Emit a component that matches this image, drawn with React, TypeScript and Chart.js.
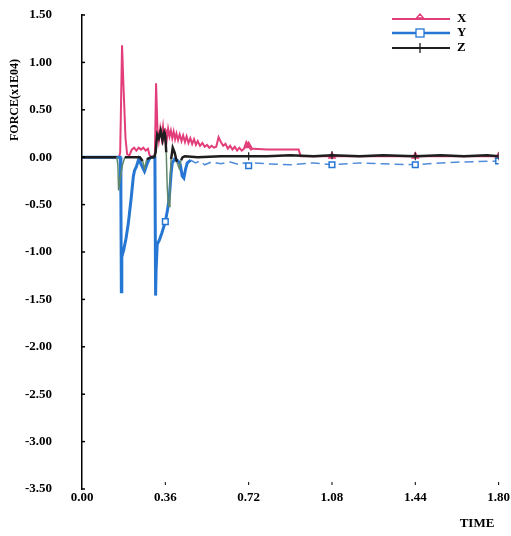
import React, { useEffect, useRef } from 'react';
import { Chart, registerables } from 'chart.js';

Chart.register(...registerables);

// ---- data ----
const xTicks = [0, 0.36, 0.72, 1.08, 1.44, 1.8];
const yTicks = [1.5, 1, 0.5, 0, -0.5, -1, -1.5, -2, -2.5, -3, -3.5];
const markerTimes = [0.36, 0.72, 1.08, 1.44, 1.8];
const seriesLabels = ['X', 'Y', 'Z'];
const seriesColors = ['rgb(226,62,122)', 'rgb(38,118,212)', 'rgb(30,30,30)'];
const axisTitleY = 'FORCE(x1E04)';
const axisTitleX = 'TIME';

const xTime = [0, 0.16, 0.165, 0.173, 0.18, 0.188, 0.195, 0.205, 0.215, 0.225, 0.235, 0.245, 0.255, 0.265, 0.275, 0.285, 0.292, 0.3, 0.315, 0.32, 0.326, 0.332, 0.338, 0.344, 0.35, 0.355, 0.36, 0.366, 0.372, 0.378, 0.384, 0.39, 0.396, 0.402, 0.408, 0.415, 0.422, 0.43, 0.437, 0.445, 0.452, 0.46, 0.468, 0.476, 0.484, 0.492, 0.5, 0.51, 0.52, 0.53, 0.54, 0.55, 0.56, 0.57, 0.58, 0.59, 0.6, 0.61, 0.62, 0.63, 0.64, 0.65, 0.66, 0.67, 0.68, 0.69, 0.7, 0.71, 0.72, 0.73, 0.74, 0.8, 0.88, 0.936, 0.945, 1.08, 1.44, 1.8];
const xForce = [0, 0, 0.05, 1.18, 0.7, 0.2, 0.03, 0.02, 0.08, 0.1, 0.07, 0.1, 0.08, 0.1, 0.07, 0.09, 0.02, 0, 0.02, 0.78, 0.3, 0.18, 0.3, 0.2, 0.32, 0.2, 0.26, 0.18, 0.3, 0.22, 0.28, 0.2, 0.27, 0.19, 0.25, 0.18, 0.24, 0.17, 0.23, 0.16, 0.22, 0.15, 0.2, 0.14, 0.19, 0.13, 0.17, 0.12, 0.15, 0.11, 0.13, 0.1, 0.12, 0.1, 0.11, 0.21, 0.16, 0.12, 0.14, 0.09, 0.12, 0.08, 0.11, 0.07, 0.1, 0.07, 0.09, 0.16, 0.12, 0.08, 0.09, 0.08, 0.08, 0.08, 0.01, 0.01, 0.01, 0.01];

const yTime = [0, 0.165, 0.168, 0.17, 0.172, 0.18, 0.19, 0.2, 0.213, 0.222, 0.227, 0.235, 0.245, 0.26, 0.27, 0.28, 0.29, 0.3, 0.315, 0.318, 0.32, 0.325, 0.335, 0.345, 0.36, 0.37, 0.378, 0.385, 0.39, 0.4, 0.415, 0.425, 0.433, 0.44, 0.448, 0.455, 0.47, 0.49, 0.51, 0.53, 0.56, 0.6, 0.64, 0.68, 0.7, 0.72, 0.74, 0.8, 0.9, 1.0, 1.08, 1.2, 1.3, 1.44, 1.55, 1.65, 1.8];
const yForce = [0, 0, -0.4, -1.42, -1.05, -0.98, -0.86, -0.7, -0.42, -0.2, -0.14, -0.1, -0.02, -0.1, -0.15, -0.08, -0.02, 0, 0, -1.46, -1.2, -0.92, -0.87, -0.8, -0.68, -0.55, -0.4, -0.17, -0.06, -0.02, -0.04, -0.08, -0.2, -0.22, -0.12, -0.06, -0.03, -0.06, -0.04, -0.08, -0.05, -0.07, -0.05, -0.08, -0.06, -0.09, -0.06, -0.07, -0.08, -0.06, -0.08, -0.06, -0.07, -0.08, -0.06, -0.05, -0.04];

const zTime = [0, 0.15, 0.155, 0.158, 0.165, 0.175, 0.185, 0.2, 0.25, 0.262, 0.27, 0.28, 0.3, 0.312, 0.318, 0.325, 0.332, 0.34, 0.348, 0.355, 0.36, 0.364, 0.368, 0.372, 0.376, 0.38, 0.385, 0.392, 0.4, 0.41, 0.42, 0.428, 0.435, 0.445, 0.5, 0.6, 0.72, 0.8, 0.9, 1.0, 1.08, 1.2, 1.3, 1.44, 1.55, 1.65, 1.75, 1.8];
const zForce = [0, 0, -0.08, -0.35, -0.22, -0.08, 0, 0, 0, -0.04, -0.12, -0.02, 0, 0, 0.05, 0.24, 0.2, 0.28, 0.18, 0.26, 0.22, 0.05, -0.3, -0.48, -0.52, -0.25, -0.02, 0.1, 0.05, -0.05, -0.12, -0.03, 0, 0.01, 0, 0.01, 0.01, 0.01, 0.02, 0.01, 0.02, 0.01, 0.02, 0.01, 0.02, 0.01, 0.02, 0.01];

const FONT = 'Liberation Serif, Times New Roman, serif';

const zip = (t: number[], v: number[]) => t.map((x, i) => ({ x, y: v[i] }));
const isMarker = (ctx: any) => ctx.raw && markerTimes.some((m) => Math.abs(m - ctx.raw.x) < 1e-9);

const decorPlugin = {
  id: 'decor',
  afterDraw(chart: any) {
    const { ctx, chartArea, scales } = chart;
    ctx.save();
    // y tick marks (inside)
    ctx.strokeStyle = '#000';
    ctx.lineWidth = 1.5;
    yTicks.forEach((v) => {
      const py = scales.y.getPixelForValue(v);
      ctx.beginPath();
      ctx.moveTo(chartArea.left, py);
      ctx.lineTo(chartArea.left + 3, py);
      ctx.stroke();
    });
    // x tick marks (small dots above labels)
    ctx.lineWidth = 1;
    xTicks.slice(1).forEach((v) => {
      const px = scales.x.getPixelForValue(v);
      ctx.beginPath();
      ctx.moveTo(px, chartArea.bottom - 7);
      ctx.lineTo(px, chartArea.bottom - 4);
      ctx.stroke();
    });
    // axis titles
    ctx.fillStyle = '#000';
    ctx.font = `bold 12px ${FONT}`;
    ctx.textAlign = 'center';
    ctx.textBaseline = 'middle';
    ctx.save();
    ctx.translate(15, 100);
    ctx.rotate(-Math.PI / 2);
    ctx.fillText(axisTitleY, 0, 0);
    ctx.restore();
    ctx.font = `bold 13px ${FONT}`;
    ctx.fillText(axisTitleX, 477, 524);
    // legend
    const rows = [19, 33, 48];
    seriesLabels.forEach((lab, i) => {
      const y = rows[i];
      const c = seriesColors[i];
      ctx.strokeStyle = c;
      ctx.lineWidth = i === 1 ? 2.5 : 2;
      ctx.beginPath();
      ctx.moveTo(392, y);
      ctx.lineTo(450, y);
      ctx.stroke();
      const mx = 420;
      ctx.lineWidth = 1.3;
      if (i === 0) {
        ctx.beginPath();
        ctx.moveTo(mx - 3.5, y - 1);
        ctx.lineTo(mx, y - 5);
        ctx.lineTo(mx + 3.5, y - 1);
        ctx.closePath();
        ctx.stroke();
      } else if (i === 1) {
        ctx.fillStyle = '#fff';
        ctx.fillRect(mx - 4, y - 4, 8, 8);
        ctx.strokeRect(mx - 4, y - 4, 8, 8);
      } else {
        ctx.beginPath();
        ctx.moveTo(mx, y - 5);
        ctx.lineTo(mx, y + 5);
        ctx.stroke();
      }
      ctx.fillStyle = '#000';
      ctx.font = `bold 13px ${FONT}`;
      ctx.textAlign = 'left';
      ctx.fillText(lab, 457, y);
    });
    ctx.restore();
  },
};

export default function App() {
  const ref = useRef<HTMLCanvasElement | null>(null);
  useEffect(() => {
    if (!ref.current) return;
    const tickFont = { family: FONT, weight: 'bold' as const, size: 13 };
    const chart = new Chart(ref.current, {
      type: 'line',
      data: {
        datasets: [
          {
            label: seriesLabels[0],
            data: zip(xTime, xForce),
            borderColor: seriesColors[0],
            backgroundColor: seriesColors[0],
            borderWidth: 2,
            pointStyle: 'triangle',
            pointRadius: (c: any) => (isMarker(c) ? 3 : 0),
            pointBorderColor: seriesColors[0],
            pointBackgroundColor: 'rgba(255,255,255,0)',
            order: 2,
            tension: 0,
          },
          {
            label: seriesLabels[1],
            data: zip(yTime, yForce),
            borderColor: seriesColors[1],
            backgroundColor: seriesColors[1],
            borderWidth: 3,
            pointStyle: 'rect',
            pointRadius: (c: any) => (isMarker(c) ? 4 : 0),
            pointBorderWidth: 1.5,
            pointBorderColor: seriesColors[1],
            pointBackgroundColor: '#fff',
            order: 1,
            tension: 0,
            segment: {
              borderWidth: (s: any) => (s.p0.parsed.x > 0.46 ? 1.5 : undefined),
              borderDash: (s: any) => (s.p0.parsed.x > 0.46 ? [9, 5] : undefined),
              borderColor: (s: any) => (s.p0.parsed.x > 0.46 ? 'rgb(80,140,215)' : undefined),
            },
          },
          {
            label: seriesLabels[2],
            data: zip(zTime, zForce),
            borderColor: seriesColors[2],
            backgroundColor: seriesColors[2],
            borderWidth: 2.5,
            pointStyle: 'line',
            pointRotation: 90,
            pointRadius: (c: any) => (isMarker(c) ? 4 : 0),
            pointBorderColor: seriesColors[2],
            pointBorderWidth: 1.2,
            order: 0,
            tension: 0,
            segment: {
              borderColor: (s: any) =>
                s.p0.parsed.y < -0.05 || s.p1.parsed.y < -0.05 ? 'rgb(95,135,105)' : undefined,
              borderWidth: (s: any) =>
                s.p0.parsed.y < -0.05 || s.p1.parsed.y < -0.05 ? 1.5 : undefined,
            },
          },
        ],
      },
      options: {
        animation: false,
        responsive: true,
        maintainAspectRatio: false,
        layout: { padding: { top: 15, left: 0, right: 0, bottom: 0 } },
        plugins: { legend: { display: false }, tooltip: { enabled: false } },
        scales: {
          x: {
            type: 'linear',
            min: 0,
            max: 1.8,
            afterBuildTicks: (s: any) => {
              s.ticks = xTicks.map((v) => ({ value: v }));
            },
            afterFit: (s: any) => {
              s.height = 47;
            },
            ticks: {
              callback: (v: any) => Number(v).toFixed(2),
              font: tickFont,
              color: '#000',
              padding: 1,
              maxRotation: 0,
              autoSkip: false,
            },
            grid: { display: false, drawTicks: false },
            border: { display: false },
          },
          y: {
            type: 'linear',
            min: -3.5,
            max: 1.5,
            afterBuildTicks: (s: any) => {
              s.ticks = yTicks.map((v) => ({ value: v }));
            },
            afterFit: (s: any) => {
              s.width = 82;
              s.paddingTop = 0;
              s.paddingBottom = 0;
            },
            ticks: {
              callback: (v: any) => Number(v).toFixed(2),
              font: tickFont,
              color: '#000',
              padding: 30,
              autoSkip: false,
            },
            grid: { display: false, drawTicks: false },
            border: { display: true, color: '#000', width: 1.5 },
          },
        },
      },
      plugins: [decorPlugin],
    });
    return () => chart.destroy();
  }, []);
  return (
    <div style={{ position: 'absolute', left: 0, top: 0, width: 511, height: 536, background: '#fff' }}>
      <canvas ref={ref} />
    </div>
  );
}
